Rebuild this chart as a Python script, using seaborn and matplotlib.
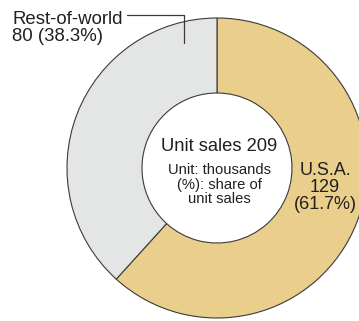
import matplotlib
matplotlib.use("Agg")
import matplotlib.pyplot as plt
import seaborn as sns

sns.set_theme(style="white")
plt.rcParams["font.family"] = ["Liberation Sans", "DejaVu Sans"]

# Unit sales by region (thousands)
regions = ["U.S.A.", "Rest-of-world"]
units = [129, 80]
shares = [61.7, 38.3]
total = 209
colors = ["#EACE8C", "#E4E5E5"]

W, H = 359, 321
fig = plt.figure(figsize=(W / 100, H / 100), dpi=100)
ax = fig.add_axes([0, 0, 1, 1])

cx, cy = 217, H - 168
R = 150
ax.pie(units, colors=colors, startangle=90, counterclock=False,
       center=(cx, cy), radius=R,
       wedgeprops=dict(width=R * 0.5, edgecolor="#3a3a3a", linewidth=0.8))
ax.set_xlim(0, W)
ax.set_ylim(0, H)
ax.set_aspect("equal")
ax.axis("off")

txt = "#231f20"
# centre caption
ax.text(cx + 2, H - 151, f"Unit sales {total}", ha="center", va="baseline",
        fontsize=13.2, color=txt)
for i, line in enumerate(["Unit: thousands", "(%): share of", "unit sales"]):
    ax.text(cx + 2, H - 174 - 14.5 * i, line, ha="center", va="baseline",
            fontsize=10.6, color=txt)

# U.S.A. label inside its wedge
for i, line in enumerate([regions[0], str(units[0]), f"({shares[0]}%)"]):
    ax.text(325, H - 175 - 17 * i, line, ha="center", va="baseline",
            fontsize=13, color=txt)

# Rest-of-world label with leader line
ax.text(12, H - 24, regions[1], ha="left", va="baseline", fontsize=13.4, color=txt)
ax.text(12, H - 41, f"{units[1]} ({shares[1]}%)", ha="left", va="baseline",
        fontsize=13.4, color=txt)
ax.plot([127, 184, 184], [H - 15, H - 15, H - 43], color="#3a3a3a", lw=0.9)

fig.savefig("out.png", dpi=100)
